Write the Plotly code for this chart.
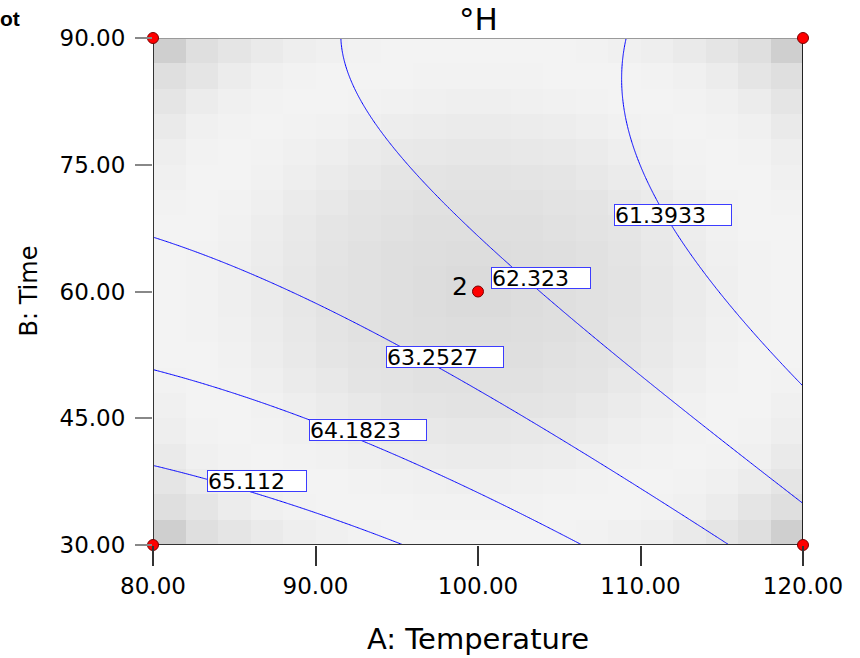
import numpy as np
import plotly.graph_objects as go

# Factor ranges (actual units) and tick labels
temp_range = [80.0, 120.0]
time_range = [30.0, 90.0]
temp_ticks = [80, 90, 100, 110, 120]
time_ticks = [30, 45, 60, 75, 90]
temp_ticktext = ["80.00", "90.00", "100.00", "110.00", "120.00"]
time_ticktext = ["30.00", "45.00", "60.00", "75.00", "90.00"]

# Quadratic response model for °H in coded factors:
# b0, A, B, AB, A^2, B^2
model_terms = ["1", "A", "B", "AB", "A2", "B2"]
model_coef = [62.5937, -1.3526, -1.4025, 0.3061, -0.3619, 0.7546]

# Contour levels that are drawn and labelled
levels = [61.3933, 62.323, 63.2527, 64.1823, 65.112]
level_text = ["61.3933", "62.323", "63.2527", "64.1823", "65.112"]
label_temp = [112.0, 103.88, 97.97, 93.26, 86.40]
label_time = [69.05, 61.60, 52.25, 43.61, 37.63]

# Central composite design (coded), alpha = 1.414, two centre runs
design_a = [-1, 1, -1, 1, -1.414, 1.414, 0, 0, 0, 0]
design_b = [-1, -1, 1, 1, 0, 0, -1.414, 1.414, 0, 0]

# Design points that lie inside the plotted slice
pt_temp = [80, 120, 80, 120, 100]
pt_time = [30, 30, 90, 90, 60]
centre_runs = "2"

FONT = "DejaVu Sans"


def to_coded(t, s):
    ca = (t - (temp_range[0] + temp_range[1]) / 2) / ((temp_range[1] - temp_range[0]) / 2)
    cb = (s - (time_range[0] + time_range[1]) / 2) / ((time_range[1] - time_range[0]) / 2)
    return ca, cb


def model_matrix(ca, cb):
    return np.stack([np.ones_like(ca), ca, cb, ca * cb, ca ** 2, cb ** 2], axis=-1)


# Response surface on a fine grid for the contour lines
A = np.linspace(temp_range[0], temp_range[1], 161)
B = np.linspace(time_range[0], time_range[1], 161)
AA, BB = np.meshgrid(A, B)
Z = model_matrix(*to_coded(AA, BB)) @ np.array(model_coef)

# Standard error of design on a 20 x 20 grid, drawn as grey shading
nx, ny = 20, 20
dx = (temp_range[1] - temp_range[0]) / nx
dy = (time_range[1] - time_range[0]) / ny
cx = temp_range[0] + dx * (np.arange(nx) + 0.5)
cy = time_range[0] + dy * (np.arange(ny) + 0.5)
CX, CY = np.meshgrid(cx, cy)
Xd = model_matrix(np.array(design_a, float), np.array(design_b, float))
XtX_inv = np.linalg.inv(Xd.T @ Xd)
G = model_matrix(*to_coded(CX, CY))
se = np.sqrt(np.einsum("...i,ij,...j->...", G, XtX_inv, G))

fig = go.Figure()

fig.add_trace(go.Heatmap(
    x=cx, y=cy, z=se,
    colorscale=[[0.0, "#f3f3f3"], [0.18, "#ededed"], [0.30, "#e9e9e9"], [0.46, "#e4e4e4"],
                [0.70, "#dfdfdf"], [0.80, "#dddddd"], [1.0, "#cfcfcf"]],
    showscale=False, hoverinfo="skip", xgap=0, ygap=0,
))

fig.add_trace(go.Contour(
    x=A, y=B, z=Z,
    contours=dict(coloring="none", start=levels[0], end=levels[-1] + 0.001,
                  size=(levels[-1] - levels[0]) / (len(levels) - 1)),
    line=dict(color="#0000ff", width=1, smoothing=0),
    showscale=False, hoverinfo="skip",
))

# plot frame: left / bottom / right dark, top grey
frame = [
    ([temp_range[0], temp_range[0]], time_range, "#333333"),
    (temp_range, [time_range[0], time_range[0]], "#333333"),
    ([temp_range[1], temp_range[1]], time_range, "#222222"),
    (temp_range, [time_range[1], time_range[1]], "#9a9a9a"),
]
for fx, fy, col in frame:
    fig.add_trace(go.Scatter(x=fx, y=fy, mode="lines", line=dict(color=col, width=2),
                             cliponaxis=False, hoverinfo="skip", showlegend=False))

fig.add_trace(go.Scatter(
    x=pt_temp, y=pt_time, mode="markers",
    marker=dict(size=11, color="#ff0000", line=dict(color="#7a0000", width=1)),
    cliponaxis=False, hoverinfo="skip", showlegend=False,
))

annotations = []
for t, xx, yy in zip(level_text, label_temp, label_time):
    w = 116 if len(t) == 7 else 98
    annotations.append(dict(
        x=xx, y=yy, xref="x", yref="y", text=t, showarrow=False,
        font=dict(family=FONT, size=22, color="black"),
        bgcolor="white", bordercolor="#3c3cff", borderwidth=1, borderpad=0,
        width=w, height=20, align="left", xanchor="center", yanchor="middle",
    ))

annotations.append(dict(
    x=pt_temp[-1], y=pt_time[-1], xref="x", yref="y", text=centre_runs, showarrow=False,
    font=dict(family=FONT, size=25, color="black"), xanchor="right", yanchor="middle",
    xshift=-8, yshift=5,
))

# title, axis titles and the clipped header text
annotations += [
    dict(x=0.5, y=1.0375, xref="paper", yref="paper", text="°H", showarrow=False,
         font=dict(family=FONT, size=31, color="black"), xanchor="center", yanchor="middle"),
    dict(x=0.5, y=-0.185, xref="paper", yref="paper", text="A: Temperature", showarrow=False,
         font=dict(family=FONT, size=29, color="black"), xanchor="center", yanchor="middle"),
    dict(x=-0.1923, y=0.5, xref="paper", yref="paper", text="B: Time", showarrow=False, textangle=-90,
         font=dict(family=FONT, size=24, color="black"), xanchor="center", yanchor="middle"),
    dict(x=(22 - 153) / 650, y=1.0375, xref="paper", yref="paper", text="<b>ot</b>", showarrow=False,
         font=dict(family="Liberation Sans", size=21, color="black"), xanchor="right", yanchor="middle"),
]

fig.update_layout(
    width=860, height=658,
    margin=dict(l=153, r=57, t=38, b=113),
    paper_bgcolor="white", plot_bgcolor="white",
    showlegend=False,
    annotations=annotations,
)
fig.update_xaxes(
    range=temp_range, tickmode="array", tickvals=temp_ticks, ticktext=temp_ticktext,
    ticks="outside", ticklen=20, tickwidth=1.5, tickcolor="#333333",
    tickfont=dict(family=FONT, size=23, color="black"),
    showgrid=False, zeroline=False, showline=False,
)
fig.update_yaxes(
    range=time_range, tickmode="array", tickvals=time_ticks, ticktext=time_ticktext,
    ticks="outside", ticklen=17, tickwidth=1.5, tickcolor="#888888",
    tickfont=dict(family=FONT, size=23, color="black"), ticklabelstandoff=5,
    showgrid=False, zeroline=False, showline=False,
)

fig.write_html("out.html")
